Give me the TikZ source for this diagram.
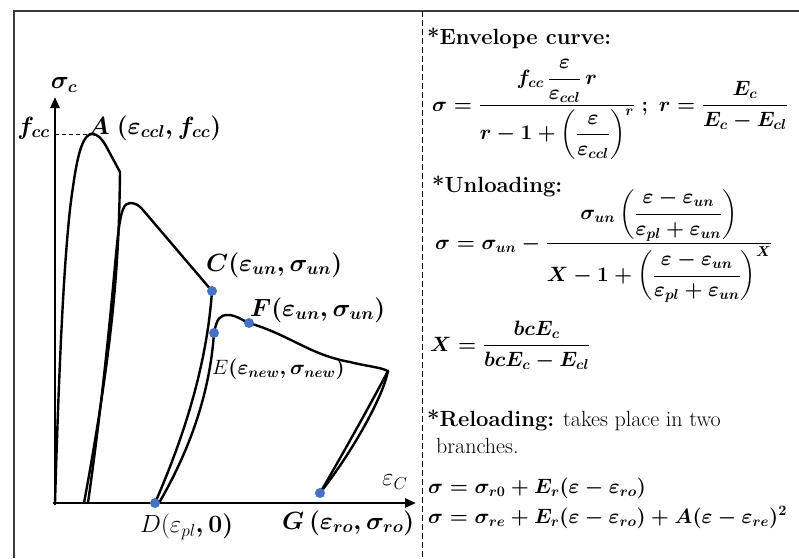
\documentclass[tikz,border=0pt]{standalone}
\usepackage{amsmath}
\usetikzlibrary{arrows.meta}
\definecolor{dotblue}{RGB}{68,114,196}
\definecolor{frameg}{RGB}{60,60,60}
\begin{document}
\begin{tikzpicture}[x=1pt,y=-1pt,
  curve/.style={line width=2.4pt,line join=round,line cap=round},
  axisline/.style={line width=2.4pt,-{Triangle[length=11pt,width=9pt]}},
  bdot/.style={circle,fill=dotblue,inner sep=0pt,minimum size=10pt},
  lbl/.style={inner sep=0pt,anchor=west,font=\fontsize{23}{27}\selectfont\boldmath},
  lblr/.style={inner sep=0pt,anchor=west,font=\fontsize{23}{27}\selectfont},
  txt/.style={inner sep=0pt,anchor=base west,font=\fontsize{22}{26}\selectfont},
  eq/.style={inner sep=0pt,anchor=base west,font=\fontsize{22}{26}\selectfont\boldmath}]
\useasboundingbox (0,0) rectangle (799,558);
% frame and divider
\draw[frameg,line width=1.5pt] (14,558) -- (14,11) -- (815,11);
\draw[line width=1pt,dash pattern=on 6pt off 3pt] (422,11) -- (422,558);
% axes
\coordinate (O) at (55,505);
\coordinate (Ytip) at (55,97);
\coordinate (Xo) at (53,503);
\coordinate (Xtip) at (416,503);
\draw[axisline] (O) -- (Ytip);
\draw[axisline] (Xo) -- (Xtip);
% key points
\coordinate (U1) at (120,172);
\coordinate (Cp) at (212,291);
\coordinate (Dp) at (155,503);
\coordinate (Ep) at (214,333);
\coordinate (Fp) at (249,323);
\coordinate (K) at (388,371);
\coordinate (Gp) at (320,493);
% dashed to peak
\coordinate (Apk) at (89,134);
\draw[line width=1pt,dash pattern=on 4pt off 3pt] (Ytip |- Apk) -- (Apk);
% curves
\draw[curve] (55,503) .. controls (60,330) and (66,230) .. (73,187)
  .. controls (78,150) and (84,134) .. (92,134)
  .. controls (98,134) and (102,139) .. (106,146) -- (U1);
\draw[curve] (U1) .. controls (119,250) and (116,330) .. (84,503);
\draw[curve] (88,503) .. controls (108,360) and (114,270) .. (118,235)
  .. controls (121,210) and (124,203) .. (130,203)
  .. controls (135,203) and (139,205) .. (143,210) -- (Cp);
\draw[curve] (Cp) .. controls (207,362) and (186,432) .. (Dp);
\draw[curve] (159,503) .. controls (192,446) and (210,390) .. (Ep)
  .. controls (217,318) and (220,315) .. (228,315)
  .. controls (236,315) and (242,320) .. (Fp)
  .. controls (290,335) and (310,355) .. (350,362)
  .. controls (365,366) and (380,367) .. (K);
\draw[curve] (K) .. controls (370,405) and (345,450) .. (Gp);
\draw[curve] (Gp) .. controls (350,455) and (382,400) .. (K);
% dots
\node[bdot] (C) at (Cp) {};
\node[bdot] (E) at (Ep) {};
\node[bdot] (F) at (Fp) {};
\node[bdot] (D) at (Dp) {};
\node[bdot] (G) at (Gp) {};
% graph labels
\node[lbl,anchor=center] (ls) at (64,85) {$\sigma_c$};
\node[lbl,anchor=east] (lf) at (50,128) {$f_{cc}$};
\node[lbl] (lA) at (88,128) {$A\ (\varepsilon_{ccl},f_{cc})$};
\node[lbl] (lC) at (206,265) {$C(\varepsilon_{un},\sigma_{un})$};
\node[lbl] (lF) at (250,310) {$F(\varepsilon_{un},\sigma_{un})$};
\node[lbl,font=\fontsize{21}{25}\selectfont\boldmath] (lE) at (212,369) {$\text{\unboldmath$E$}(\varepsilon_{new},\sigma_{new})$};
\node[lbl] (lD) at (140,527) {$\text{\unboldmath$D(\varepsilon_{pl}$},\mathbf{0})$};
\node[lbl] (lG) at (282,523) {$G\,(\varepsilon_{ro},\sigma_{ro})$};
\node[lblr] (lx) at (382,482) {$\varepsilon_C$};
% right panel
\node[txt] (h1) at (427,44) {\textbf{*Envelope curve:}};
\node[eq] (e1) at (432,111) {$\sigma=\dfrac{f_{cc}\,\dfrac{\varepsilon}{\varepsilon_{ccl}}\,r}{r-1+\left(\dfrac{\varepsilon}{\varepsilon_{ccl}}\right)^{r}}\ ;\ r=\dfrac{E_c}{E_c-E_{cl}}$};
\node[txt] (h2) at (432,192) {\textbf{*Unloading:}};
\node[eq] (e2) at (435,249) {$\sigma=\sigma_{un}-\dfrac{\sigma_{un}\left(\dfrac{\varepsilon-\varepsilon_{un}}{\varepsilon_{pl}+\varepsilon_{un}}\right)}{X-1+\left(\dfrac{\varepsilon-\varepsilon_{un}}{\varepsilon_{pl}+\varepsilon_{un}}\right)^{X}}$};
\node[eq] (e3) at (430,351) {$X=\dfrac{bcE_c}{bcE_c-E_{cl}}$};
\node[txt] (h3) at (427,426) {\textbf{*Reloading:} takes place in two};
\node[txt] (h4) at (436,453) {branches.};
\node[eq] (e4) at (428,493) {$\sigma=\sigma_{r0}+E_r(\varepsilon-\varepsilon_{ro})$};
\node[eq] (e5) at (428,523) {$\sigma=\sigma_{re}+E_r(\varepsilon-\varepsilon_{ro})+A(\varepsilon-\varepsilon_{re})^2$};
\end{tikzpicture}
\end{document}
